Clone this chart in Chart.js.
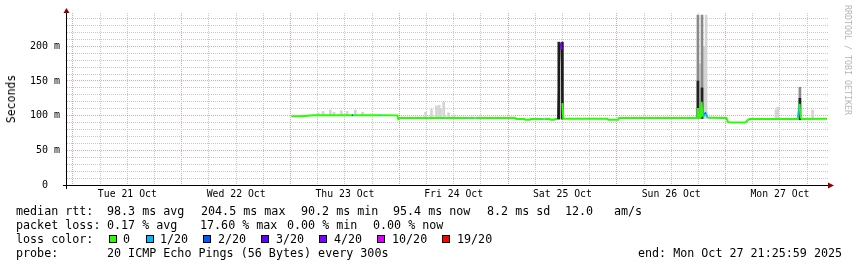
<!DOCTYPE html>
<html>

<head>
  <title>Smokeping latency</title>
  <script src="https://cdn.jsdelivr.net/npm/chart.js@4.4.1/dist/chart.umd.min.js"></script>
  <style>
    body { margin: 0; background: #fff; }
    #wrap { position: relative; width: 857px; height: 267px; overflow: hidden; }
    #wrap canvas { position: absolute; left: 0; top: 0; }
    .t { position: absolute; font-family: "DejaVu Sans Mono", monospace; font-size: 11.7px; line-height: 14px; white-space: pre; color: #000; }
    .box { position: absolute; top: 235px; width: 6px; height: 6px; border: 1px solid #000; }
    #ylab { position: absolute; left: 11px; top: 99px; transform: translate(-50%, -50%) rotate(-90deg);
      font-family: "DejaVu Sans Mono", monospace; font-size: 11.5px; white-space: nowrap; }
    #credit { position: absolute; left: 848px; top: 60px; transform: translate(-50%, -50%) rotate(90deg);
      font-family: "DejaVu Sans Mono", monospace; font-size: 8.3px; color: #b4b4b4; white-space: nowrap; }
  </style>
</head>

<body>
  <div id="wrap">
    <canvas id="chart" width="857" height="267"></canvas>
    <div id="ylab">Seconds</div>
    <div id="credit">RRDTOOL / TOBI OETIKER</div>

    <div class="t" style="left:16px; top:204px">median rtt:</div>
    <div class="t" style="left:107px; top:204px">98.3 ms avg</div>
    <div class="t" style="left:201px; top:204px">204.5 ms max</div>
    <div class="t" style="left:301px; top:204px">90.2 ms min</div>
    <div class="t" style="left:393px; top:204px">95.4 ms now</div>
    <div class="t" style="left:487px; top:204px">8.2 ms sd</div>
    <div class="t" style="left:565px; top:204px">12.0</div>
    <div class="t" style="left:614px; top:204px">am/s</div>

    <div class="t" style="left:16px; top:218px">packet loss:</div>
    <div class="t" style="left:107px; top:218px">0.17 % avg</div>
    <div class="t" style="left:200px; top:218px">17.60 % max</div>
    <div class="t" style="left:287px; top:218px">0.00 % min</div>
    <div class="t" style="left:373px; top:218px">0.00 % now</div>

    <div class="t" style="left:16px; top:232px">loss color:</div>
    <div class="box" style="left:109px; background:#26ff00"></div>
    <div class="t" style="left:123px; top:232px">0</div>
    <div class="box" style="left:146px; background:#00b8ff"></div>
    <div class="t" style="left:160px; top:232px">1/20</div>
    <div class="box" style="left:203px; background:#0059ff"></div>
    <div class="t" style="left:218px; top:232px">2/20</div>
    <div class="box" style="left:261px; background:#5e00ff"></div>
    <div class="t" style="left:276px; top:232px">3/20</div>
    <div class="box" style="left:319px; background:#7e00ff"></div>
    <div class="t" style="left:334px; top:232px">4/20</div>
    <div class="box" style="left:377px; background:#dd00ff"></div>
    <div class="t" style="left:392px; top:232px">10/20</div>
    <div class="box" style="left:442px; background:#ff0000"></div>
    <div class="t" style="left:457px; top:232px">19/20</div>

    <div class="t" style="left:16px; top:246px">probe:</div>
    <div class="t" style="left:107px; top:246px">20 ICMP Echo Pings (56 Bytes) every 300s</div>
    <div class="t" style="left:638px; top:246px">end: Mon Oct 27 21:25:59 2025</div>
  </div>

  <script>
    // hours are counted from Tue 21 Oct 00:00
    const dayLabels = ['Tue 21 Oct', 'Wed 22 Oct', 'Thu 23 Oct', 'Fri 24 Oct', 'Sat 25 Oct', 'Sun 26 Oct', 'Mon 27 Oct'];

    // median rtt (ms) and how many of the 20 pings were lost
    const medHours = [48.2, 50.5, 53.0, 61.5, 61.8, 68.0, 68.3, 71.6, 71.8, 72.1,
      81.7, 81.9, 87.0, 87.2, 88.6, 88.8, 97.6,
      97.8, 99.6, 99.8, 100.8, 101.0, 103.8, 104.0, 105.2, 105.4, 106.2, 106.4, 107.0,
      107.2, 107.4, 107.6, 107.8, 108.0, 108.2, 117.9, 118.1, 120.3, 120.5,
      137.7, 137.9, 138.1, 138.5, 138.7, 138.9, 139.2, 139.4, 139.7, 140.0,
      144.2, 144.5, 145.0, 148.4, 148.9, 149.3,
      159.8, 160.0, 160.3, 160.6, 160.9, 166.4];
    const medMs = [99.3, 99.0, 100.6, 100.6, 100.6, 100.6, 100.6, 100.4, 95.0, 96.6,
      96.6, 96.6, 96.6, 96.6, 96.6, 96.6, 96.6,
      95.3, 95.3, 94.2, 94.2, 95.3, 95.3, 95.3, 95.3, 94.2, 94.2, 95.3, 95.3,
      140, 204, 204.5, 195, 118, 95.7, 95.7, 94.2, 94.2, 96.6,
      96.6, 111, 99, 98, 120, 100, 99, 104, 103, 97,
      96.6, 91, 90.2, 90.2, 93.5, 95.0,
      95.0, 98, 117, 97, 95.0, 95.4];
    const medLoss = [0, 0, 0, 2, 0, 1, 0, 0, 0, 0,
      1, 0, 1, 0, 1, 0, 0,
      0, 0, 0, 0, 0, 1, 0, 0, 0, 0, 0, 0,
      1, 3, 4, 3, 0, 0, 0, 0, 0, 0,
      0, 0, 0, 0, 0, 0, 1, 2, 1, 0,
      0, 0, 0, 0, 0, 0,
      0, 1, 0, 0, 0, 0];

    // smoke: spread of the individual pings (ms)
    const lightHours = [54.1, 55.2, 56.8, 57.6, 59.2, 60.5, 62.3, 63.9,
      77.8, 79.1, 80.2, 80.8, 81.1, 81.8, 82.9, 84.0,
      107.6, 138.3, 138.5, 139.2, 139.7, 155.1, 155.5, 163.2];
    const lightLo = [100, 100, 100, 100, 100, 100, 100, 100,
      96, 96, 96, 96, 96, 96, 96, 96,
      95, 96, 96, 96, 96, 95, 95, 95];
    const lightHi = [104, 106, 108, 105, 107, 106, 108, 105,
      105, 109, 114, 115, 110, 120, 104, 101,
      206, 175, 160, 200, 245, 108, 112, 108];

    const midHours = [137.9, 138.8, 160.4];
    const midLo = [96, 96, 100];
    const midHi = [245, 245, 141];

    const darkHours = [107.2, 108.0, 137.9, 138.8, 160.4];
    const darkLo = [95, 95, 96, 96, 94];
    const darkHi = [206, 206, 150, 140, 125];

    function lossColor(n) {
      if (n === 0) return '#26ff00';
      if (n === 1) return '#00b8ff';
      if (n === 2) return '#0059ff';
      if (n === 3) return '#5e00ff';
      if (n < 10) return '#7e00ff';
      if (n < 19) return '#dd00ff';
      return '#ff0000';
    }

    function bars(hours, lo, hi) {
      return hours.map((h, i) => ({ x: h, y: [lo[i], hi[i]] }));
    }

    const gridGrey = '#c8c8c8';
    const gridRed = 'rgba(225, 90, 90, 0.55)';
    const mono = 'DejaVu Sans Mono';

    const rrdAxes = {
      id: 'rrdAxes',
      afterDatasetsDraw(chart) {
        const ctx = chart.ctx;
        const a = chart.chartArea;
        ctx.save();
        ctx.strokeStyle = '#000';
        ctx.lineWidth = 1;
        ctx.beginPath();
        ctx.moveTo(a.left - 4, a.bottom + 0.5);
        ctx.lineTo(a.right + 1, a.bottom + 0.5);
        ctx.moveTo(a.left - 0.5, a.bottom + 4);
        ctx.lineTo(a.left - 0.5, a.top - 1);
        ctx.stroke();
        ctx.fillStyle = '#8b0000';
        ctx.beginPath();
        ctx.moveTo(a.right, a.bottom - 2.5);
        ctx.lineTo(a.right + 6, a.bottom + 0.5);
        ctx.lineTo(a.right, a.bottom + 3.5);
        ctx.fill();
        ctx.beginPath();
        ctx.moveTo(a.left - 3.5, a.top);
        ctx.lineTo(a.left - 0.5, a.top - 5);
        ctx.lineTo(a.left + 2.5, a.top);
        ctx.fill();
        ctx.restore();
      }
    };

    const ctx = document.getElementById('chart').getContext('2d');
    const chart = new Chart(ctx, {
      type: 'line',
      data: {
        datasets: [{
          type: 'line',
          label: 'median rtt',
          data: medHours.map((h, i) => ({ x: h, y: medMs[i] })),
          borderColor: '#26ff00',
          borderWidth: 2,
          pointRadius: 0,
          tension: 0,
          segment: {
            // steep jumps show up dark in rrdtool, the colour only sits on the flat parts
            borderColor: c => Math.abs(c.p1.parsed.y - c.p0.parsed.y) > 30 ? '#1a1a1a' : lossColor(medLoss[c.p0DataIndex]),
            borderWidth: c => Math.abs(c.p1.parsed.y - c.p0.parsed.y) > 30 ? 1.5 : 2
          },
          order: 0
        }, {
          type: 'bar',
          label: 'smoke dark',
          data: bars(darkHours, darkLo, darkHi),
          backgroundColor: '#222',
          barThickness: 2,
          grouped: false,
          order: 1
        }, {
          type: 'bar',
          label: 'smoke mid',
          data: bars(midHours, midLo, midHi),
          backgroundColor: '#8a8a8a',
          barThickness: 2,
          grouped: false,
          order: 2
        }, {
          type: 'bar',
          label: 'smoke light',
          data: bars(lightHours, lightLo, lightHi),
          backgroundColor: '#d4d4d4',
          barThickness: 2,
          grouped: false,
          order: 3
        }]
      },
      options: {
        responsive: false,
        animation: false,
        devicePixelRatio: 1,
        layout: { padding: { left: 0, right: 29, top: 12, bottom: 0 } },
        plugins: { legend: { display: false }, tooltip: { enabled: false } },
        scales: {
          x: {
            type: 'linear',
            min: -1.32,
            max: 166.6,
            offset: false,
            afterBuildTicks: s => {
              s.ticks = [];
              for (let h = 0; h <= 162; h += 6) s.ticks.push({ value: h });
            },
            afterFit: s => { s.height = 82; },
            grid: {
              color: c => (c.tick && c.tick.value % 24 === 0) ? gridRed : gridGrey,
              lineWidth: 1,
              drawTicks: false,
              offset: false
            },
            border: { display: false, dash: [1, 1] },
            ticks: {
              autoSkip: false,
              maxRotation: 0,
              padding: 4,
              color: '#000',
              font: { family: mono, size: 9.8 },
              callback: v => (v % 24 === 12) ? dayLabels[(v - 12) / 24] : ''
            }
          },
          y: {
            min: 0,
            max: 248,
            afterBuildTicks: s => {
              s.ticks = [];
              for (let v = 0; v <= 240; v += 10) s.ticks.push({ value: v });
            },
            afterFit: s => { s.width = 67; },
            grid: {
              color: c => (c.tick && c.tick.value % 50 === 0) ? gridRed : gridGrey,
              lineWidth: 1,
              drawTicks: false
            },
            border: { display: false, dash: [1, 1] },
            ticks: {
              autoSkip: false,
              padding: 7,
              color: '#000',
              font: { family: mono, size: 10 },
              callback: v => (v % 50) ? '' : (v === 0 ? '0  ' : v + ' m')
            }
          }
        }
      },
      plugins: [rrdAxes]
    });
  </script>
</body>

</html>
